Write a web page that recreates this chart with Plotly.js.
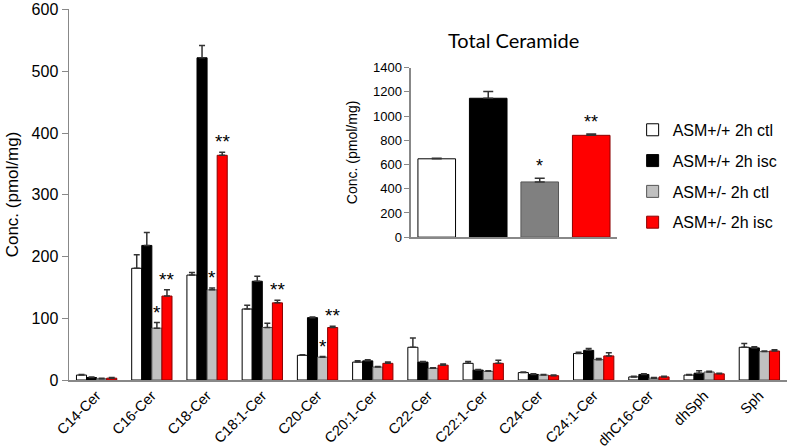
<!DOCTYPE html>
<html>
<head>
<meta charset="utf-8">
<script src="https://cdn.plot.ly/plotly-3.0.1.min.js"></script>
<style>html,body{margin:0;padding:0;background:#fff;}#chart{width:792px;height:448px;}</style>
</head>
<body>
<div id="chart"></div>
<script>
const categories = ['C14-Cer','C16-Cer','C18-Cer','C18:1-Cer','C20-Cer','C20:1-Cer','C22-Cer','C22:1-Cer','C24-Cer','C24:1-Cer','dhC16-Cer','dhSph','Sph'];
const seriesNames = ['ASM+/+ 2h ctl','ASM+/+ 2h isc','ASM+/- 2h ctl','ASM+/- 2h isc'];
const wtCtl  = [8,181,170,115,40,29,53,27,12,43,5,8,53];
const wtIsc  = [4,218,522,160,101,31,29,16,9,48,9,11,52];
const hetCtl = [2,84,146,85,37,21,19,14,8,33,3,13,46];
const hetIsc = [3,136,364,125,85,27,24,27,7,39,5,10,47];
const wtCtlErr  = [1,22,4,6,1,2,15,3,1,2,1,1,6];
const wtIscErr  = [1,21,20,8,1,2,1,1,1,3,1,4,2];
const hetCtlErr = [1,9,3,7,1,1,1,1,1,2,1,1,1];
const hetIscErr = [1,10,5,4,2,2,2,5,1,5,1,1,2];
const sigGray = ['','*','*','','*','','','','','','','',''];
const sigRed  = ['','**','**','**','**','','','','','','','',''];

const totalCats = ['wtCtl','wtIsc','hetCtl','hetIsc'];
const totalVals = [647,1147,456,841];
const totalErr  = [5,55,30,10];
const totalSig  = ['','','*','**'];

const FONT = 'Liberation Sans, Arial, sans-serif';
const fills = ['#ffffff','#000000','#c0c0c0','#ff0000'];
const lines = ['#000000','#000000','#555555','#8b0000'];
const insetFills = ['#ffffff','#000000','#808080','#ff0000'];
const mainVals = [wtCtl, wtIsc, hetCtl, hetIsc];
const mainErrs = [wtCtlErr, wtIscErr, hetCtlErr, hetIscErr];

const traces = mainVals.map((vals, i) => ({
  type: 'bar', x: categories, y: vals, name: seriesNames[i],
  legendgroup: 'g' + i,
  marker: {color: fills[i], line: {color: lines[i], width: 1}},
  error_y: {type: 'data', array: mainErrs[i], arrayminus: vals.map(() => 0), symmetric: false,
            color: '#333', thickness: 1.5, width: 3},
  xaxis: 'x', yaxis: 'y', hoverinfo: 'skip'
}));

traces.push({
  type: 'bar', x: totalCats, y: totalVals, showlegend: false,
  marker: {color: insetFills, line: {color: lines, width: 1}},
  error_y: {type: 'data', array: totalErr, arrayminus: totalVals.map(() => 0), symmetric: false,
            color: '#333', thickness: 1.5, width: 5},
  xaxis: 'x2', yaxis: 'y2', hoverinfo: 'skip'
});

const bargap = 0.27;
const bw = (1 - bargap) / 4;
const annotations = [];
const starFont = {family: FONT, size: 19, color: '#000'};
categories.forEach((c, k) => {
  if (sigGray[k]) annotations.push({x: k + 0.5 * bw, y: hetCtl[k] + hetCtlErr[k], xref: 'x', yref: 'y',
    text: sigGray[k], showarrow: false, yanchor: 'bottom', yshift: -2, font: starFont});
  if (sigRed[k]) annotations.push({x: k + 1.5 * bw, y: hetIsc[k] + hetIscErr[k], xref: 'x', yref: 'y',
    text: sigRed[k], showarrow: false, yanchor: 'bottom', yshift: -2, font: starFont});
});
totalCats.forEach((c, k) => {
  if (totalSig[k]) annotations.push({x: c, y: totalVals[k] + totalErr[k], xref: 'x2', yref: 'y2',
    text: totalSig[k], showarrow: false, yanchor: 'bottom', yshift: 0, font: {family: FONT, size: 18, color: '#000'}});
});
annotations.push({text: 'Total Ceramide', xref: 'x2 domain', yref: 'y2 domain', x: 0.5, y: 1.08,
  xanchor: 'center', yanchor: 'bottom', showarrow: false, font: {family: 'Lato, Open Sans, sans-serif', size: 20, color: '#000'}});

const layout = {
  width: 792, height: 448,
  margin: {l: 69, r: 5, t: 9, b: 68},
  paper_bgcolor: '#fff', plot_bgcolor: 'rgba(0,0,0,0)',
  font: {family: FONT, color: '#000'},
  barmode: 'group', bargap: bargap, bargroupgap: 0,
  showlegend: true,
  legend: {x: 0.785, y: 0.72, xanchor: 'left', yanchor: 'top', bgcolor: 'rgba(0,0,0,0)',
           font: {family: FONT, size: 16, color: '#000'}, tracegroupgap: 7, traceorder: 'grouped'},
  xaxis: {type: 'category', range: [-0.5, 12.5], showline: true, linecolor: '#888', linewidth: 1.5,
          ticks: '', tickangle: -45, tickfont: {family: FONT, size: 14.5, color: '#000'}, showgrid: false, zeroline: false,
          ticklabeloverflow: 'allow', domain: [0, 1]},
  yaxis: {range: [0, 601], tickvals: [0,100,200,300,400,500,600], showline: true, linecolor: '#888', linewidth: 1.5, ticks: 'outside',
          ticklen: 6, tickcolor: '#888', tickfont: {family: FONT, size: 16, color: '#000'}, showgrid: false, zeroline: false,
          ticklabeloverflow: 'allow',
          title: {text: 'Conc. (pmol/mg)', font: {family: FONT, size: 17, color: '#000'}, standoff: 8}},
  xaxis2: {type: 'category', domain: [0.4763, 0.7632], anchor: 'y2', range: [-0.5, 3.5], showline: true,
           linecolor: '#888', linewidth: 1.5, showticklabels: false, ticks: '', showgrid: false, zeroline: false},
  yaxis2: {domain: [0.385, 0.842], anchor: 'x2', range: [0, 1400], dtick: 200, showline: true, linecolor: '#888',
           linewidth: 1.5, ticks: 'outside', ticklen: 5, tickcolor: '#888', showgrid: false, zeroline: false,
           tickfont: {family: FONT, size: 13, color: '#000'},
           title: {text: 'Conc. (pmol/mg)', font: {family: FONT, size: 14, color: '#000'}, standoff: 12}},
  annotations: annotations
};

Plotly.newPlot('chart', traces, layout, {staticPlot: true, displayModeBar: false});
</script>
</body>
</html>
